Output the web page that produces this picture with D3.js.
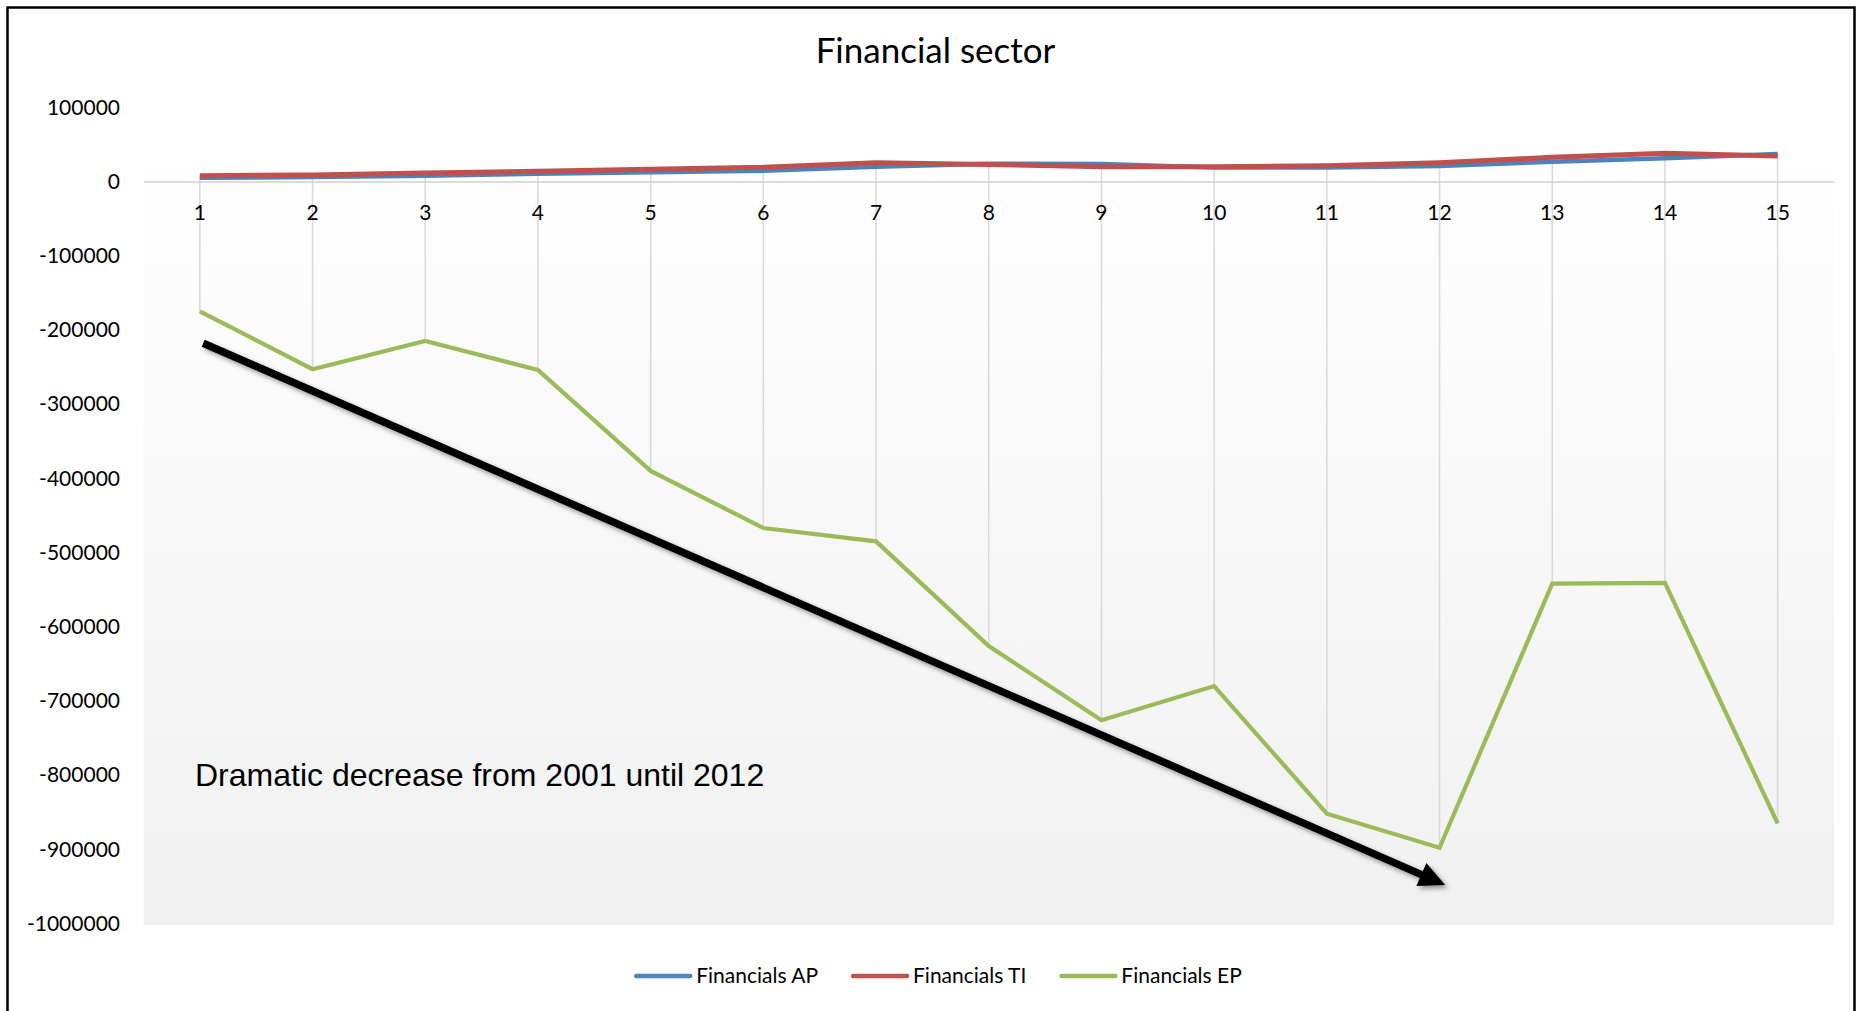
<!DOCTYPE html>
<html>
<head>
<meta charset="utf-8">
<script src="https://cdn.jsdelivr.net/npm/d3@7"></script>
<style>
  html, body { margin: 0; padding: 0; background: #ffffff; }
  svg { display: block; }
</style>
</head>
<body>
<script>
// Categories (periods) and the three financial-sector series
const categories = [1, 2, 3, 4, 5, 6, 7, 8, 9, 10, 11, 12, 13, 14, 15];
const financialsAP = [5000, 6000, 7800, 10500, 12600, 14500, 20000, 24000, 23500, 19000, 19000, 21000, 26700, 31300, 37000];
const financialsTI = [7800, 8800, 11500, 13700, 16400, 19100, 25300, 23000, 20000, 20000, 21300, 25300, 32600, 38000, 34400];
const financialsEP = [-175000, -253000, -215000, -254000, -390000, -467000, -485000, -626000, -726000, -680000, -852000, -898000, -542000, -541000, -865000];
const seriesNames = ["Financials AP", "Financials TI", "Financials EP"];
const yTicks = [100000, 0, -100000, -200000, -300000, -400000, -500000, -600000, -700000, -800000, -900000, -1000000];

// Trend arrow, given in chart units (category, value)
const trendArrow = { from: [1.03, -218000], to: [12.05, -948000] };
const annotation = "Dramatic decrease from 2001 until 2012";

const W = 1863, H = 1011;
const colors = ["#4f81bd", "#c0504d", "#9bbb59"];
const widths = [4.5, 5, 4.2];
const labelFont = "Lato, 'Open Sans', sans-serif";

const svg = d3.select("body").append("svg").attr("width", W).attr("height", H);

const defs = svg.append("defs");
const grad = defs.append("linearGradient").attr("id", "plotBg")
  .attr("x1", 0).attr("y1", 0).attr("x2", 0).attr("y2", 1);
grad.append("stop").attr("offset", "0%").attr("stop-color", "#ffffff");
grad.append("stop").attr("offset", "100%").attr("stop-color", "#f1f1f1");

const shadow = defs.append("filter").attr("id", "arrowShadow")
  .attr("x", "-10%").attr("y", "-10%").attr("width", "120%").attr("height", "130%");
shadow.append("feDropShadow").attr("dx", 3).attr("dy", 3).attr("stdDeviation", 2.5)
  .attr("flood-color", "#000").attr("flood-opacity", 0.4);

// Plot area
const plot = { left: 143.5, right: 1834 };
const x = d3.scaleBand().domain(categories).range([plot.left, plot.right]);
const cx = c => x(c) + x.bandwidth() / 2;
// continuous x for annotations placed between categories
const xc = d3.scaleLinear().domain([1, 15]).range([cx(1), cx(15)]);
const y = d3.scaleLinear().domain([-1000000, 100000]).range([923.5, 107.3]);

// Chart border
svg.append("rect").attr("x", 7.5).attr("y", 7.5).attr("width", 1847).attr("height", 1040)
  .attr("fill", "none").attr("stroke", "#000").attr("stroke-width", 2.5);

// Plot background
svg.append("rect").attr("x", plot.left).attr("y", y(100000))
  .attr("width", plot.right - plot.left).attr("height", y(-1000000) - y(100000) + 1.5)
  .attr("fill", "url(#plotBg)");

// Title
svg.append("text").attr("x", 935.5).attr("y", 63).attr("text-anchor", "middle")
  .attr("font-family", labelFont).attr("font-size", 35).attr("fill", "#000")
  .text("Financial sector");

// Value axis labels
const yAxis = d3.axisLeft(y).tickValues(yTicks).tickSize(0).tickPadding(0).tickFormat(d => String(d));
const yg = svg.append("g").attr("transform", "translate(120,0)").call(yAxis);
yg.select(".domain").remove();
yg.selectAll("text").attr("font-family", labelFont).attr("font-size", 21).attr("fill", "#000");

// High-low lines between the top and bottom series at each category
const hiLo = categories.map((c, i) => {
  const vals = [financialsAP[i], financialsTI[i], financialsEP[i]];
  return { c, hi: d3.max(vals), lo: d3.min(vals) };
});
svg.append("g").selectAll("line").data(hiLo).join("line")
  .attr("x1", d => cx(d.c)).attr("x2", d => cx(d.c))
  .attr("y1", d => y(d.hi)).attr("y2", d => y(d.lo))
  .attr("stroke", "#d9d9d9").attr("stroke-width", 1.5);

// Category axis at zero
const xAxis = d3.axisBottom(x).tickSize(0).tickPadding(0);
const xg = svg.append("g").attr("transform", `translate(0,${y(0)})`).call(xAxis);
xg.select(".domain").attr("stroke", "#d0d0d0").attr("stroke-width", 1.5);
xg.selectAll("text").attr("font-family", labelFont).attr("font-size", 21).attr("fill", "#000")
  .attr("dy", "1.85em");

// Series lines
const seriesData = [financialsAP, financialsTI, financialsEP];
const line = d3.line().x((d, i) => cx(categories[i])).y(d => y(d));
svg.append("g").selectAll("path").data(seriesData).join("path")
  .attr("d", d => line(d))
  .attr("fill", "none")
  .attr("stroke", (d, i) => colors[i])
  .attr("stroke-width", (d, i) => widths[i]);

// Trend arrow
const p0 = [xc(trendArrow.from[0]), y(trendArrow.from[1])];
const p1 = [xc(trendArrow.to[0]), y(trendArrow.to[1])];
const len = Math.hypot(p1[0] - p0[0], p1[1] - p0[1]);
const ux = (p1[0] - p0[0]) / len, uy = (p1[1] - p0[1]) / len;
const headLen = 26, headHalf = 12.5;
const base = [p1[0] - ux * headLen, p1[1] - uy * headLen];
const arrow = svg.append("g").attr("filter", "url(#arrowShadow)");
arrow.append("line")
  .attr("x1", p0[0]).attr("y1", p0[1])
  .attr("x2", base[0] + ux * 2).attr("y2", base[1] + uy * 2)
  .attr("stroke", "#000").attr("stroke-width", 7.5);
arrow.append("path")
  .attr("d", d3.line()([
    p1,
    [base[0] - uy * headHalf, base[1] + ux * headHalf],
    [base[0] + uy * headHalf, base[1] - ux * headHalf]
  ]) + "Z")
  .attr("fill", "#000");

// Annotation text
svg.append("text").attr("x", 195).attr("y", 786)
  .attr("font-family", "'Liberation Sans', Arial, sans-serif").attr("font-size", 32).attr("fill", "#000")
  .text(annotation);

// Legend
const legend = svg.append("g");
const items = legend.selectAll("g").data(seriesNames).join("g");
items.append("line").attr("x1", 0).attr("x2", 54).attr("y1", 0).attr("y2", 0)
  .attr("stroke", (d, i) => colors[i]).attr("stroke-width", 4.5).attr("stroke-linecap", "round");
items.append("text").attr("x", 60).attr("y", 0).attr("dy", "0.35em")
  .attr("font-family", labelFont).attr("font-size", 21).attr("fill", "#000")
  .text(d => d);
let offset = 0;
const itemPos = [];
items.each(function () {
  const w = 60 + d3.select(this).select("text").node().getComputedTextLength();
  itemPos.push(offset);
  offset += w + 35;
});
const total = offset - 35;
const legendLeft = 939 - total / 2;
items.attr("transform", (d, i) => `translate(${legendLeft + itemPos[i]},976)`);
</script>
</body>
</html>
